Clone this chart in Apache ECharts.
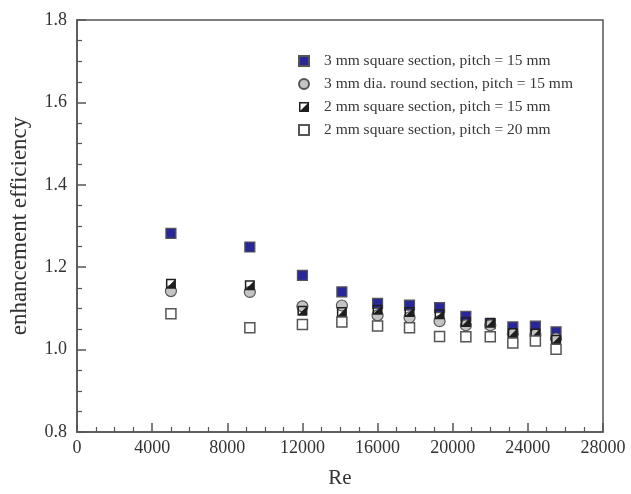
<!DOCTYPE html>
<html>
<head>
<meta charset="utf-8">
<script src="https://cdn.jsdelivr.net/npm/echarts@6/dist/echarts.min.js"></script>
<style>
html,body{margin:0;padding:0;background:#fff;}
#chart{width:631px;height:494px;}
</style>
</head>
<body>
<div id="chart"></div>
<script>
var reynolds = [5000, 9200, 12000, 14100, 16000, 17700, 19300, 20700, 22000, 23200, 24400, 25500];
var sq3p15 = [1.282, 1.249, 1.180, 1.140, 1.112, 1.108, 1.102, 1.081, 1.063, 1.055, 1.057, 1.043];
var round3p15 = [1.142, 1.140, 1.105, 1.107, 1.083, 1.078, 1.069, 1.059, 1.059, 1.038, 1.036, 1.027];
var sq2p15 = [1.160, 1.156, 1.094, 1.091, 1.097, 1.091, 1.086, 1.067, 1.065, 1.040, 1.039, 1.024];
var sq2p20 = [1.087, 1.053, 1.061, 1.067, 1.057, 1.053, 1.032, 1.031, 1.031, 1.016, 1.021, 1.001];
var seriesNames = [
  '3 mm square section, pitch = 15 mm',
  '3 mm dia. round section, pitch = 15 mm',
  '2 mm square section, pitch = 15 mm',
  '2 mm square section, pitch = 20 mm'
];
var xTicks = [0, 4000, 8000, 12000, 16000, 20000, 24000, 28000];
var yTicks = [0.8, 1.0, 1.2, 1.4, 1.6, 1.8];

function pairs(ys){ return reynolds.map(function(x,i){ return [x, ys[i]]; }); }

var FONT = '"Liberation Serif", "DejaVu Serif", serif';
var AX = '#555';
var halfPath = 'path://M0 0 L20 0 L20 20 L0 20 Z M3 3 L3 17 L17 17 L17 3 Z M17 3 L17 17 L3 17 Z';

var chart = echarts.init(document.getElementById('chart'), null, {renderer:'canvas'});
chart.setOption({
  backgroundColor: '#fff',
  animation: false,
  grid: {left: 77, right: 28, top: 20, bottom: 62, show: true, borderColor: AX, borderWidth: 1.5, backgroundColor: 'transparent'},
  legend: {
    orient: 'vertical', left: 293, top: 48, itemWidth: 10, itemHeight: 10, itemGap: 7,
    textStyle: {fontFamily: FONT, fontSize: 15.5, color: '#383838', padding: [0,0,0,10]},
    data: [
      {name: seriesNames[0], icon: 'rect'},
      {name: seriesNames[1], icon: 'circle'},
      {name: seriesNames[2], icon: halfPath},
      {name: seriesNames[3], icon: 'rect'}
    ]
  },
  xAxis: {
    type: 'value', min: xTicks[0], max: xTicks[xTicks.length-1], interval: 4000,
    name: 'Re', nameLocation: 'middle', nameGap: 36,
    nameTextStyle: {fontFamily: FONT, fontSize: 21, color: '#333'},
    axisLine: {show: true, lineStyle: {color: AX, width: 1.5}},
    axisTick: {show: true, inside: true, length: 9, lineStyle: {color: AX, width: 1.5}},
    minorTick: {show: true, splitNumber: 4, length: 5, lineStyle: {color: AX, width: 1.2}},
    splitLine: {show: false},
    axisLabel: {fontFamily: FONT, fontSize: 18, color: '#333', margin: 7, formatter: function(v){ return String(v); }}
  },
  yAxis: {
    type: 'value', min: yTicks[0], max: yTicks[yTicks.length-1], interval: 0.2,
    name: 'enhancement efficiency', nameLocation: 'middle', nameGap: 46,
    nameTextStyle: {fontFamily: FONT, fontSize: 23, color: '#333'},
    axisLine: {show: true, lineStyle: {color: AX, width: 1.5}},
    axisTick: {show: true, inside: true, length: 9, lineStyle: {color: AX, width: 1.5}},
    minorTick: {show: true, splitNumber: 4, length: 5, lineStyle: {color: AX, width: 1.2}},
    splitLine: {show: false},
    axisLabel: {fontFamily: FONT, fontSize: 18, color: '#333', margin: 10, formatter: function(v){ return v.toFixed(1); }}
  },
  series: [
    {name: seriesNames[0], type: 'scatter', data: pairs(sq3p15), symbol: 'rect', symbolSize: 10,
     itemStyle: {color: '#27279a', borderColor: '#555', borderWidth: 1.2, opacity: 1}},
    {name: seriesNames[1], type: 'scatter', data: pairs(round3p15), symbol: 'circle', symbolSize: 11,
     itemStyle: {color: '#c4c4c4', borderColor: '#555', borderWidth: 1.2, opacity: 1}},
    {name: seriesNames[2], type: 'scatter', data: pairs(sq2p15), symbol: halfPath, symbolSize: 10,
     itemStyle: {color: '#1e1e1e', borderWidth: 0, opacity: 1}},
    {name: seriesNames[3], type: 'scatter', data: pairs(sq2p20), symbol: 'rect', symbolSize: 10,
     itemStyle: {color: '#fff', borderColor: '#555', borderWidth: 1.5, opacity: 1}}
  ]
});
</script>
</body>
</html>
